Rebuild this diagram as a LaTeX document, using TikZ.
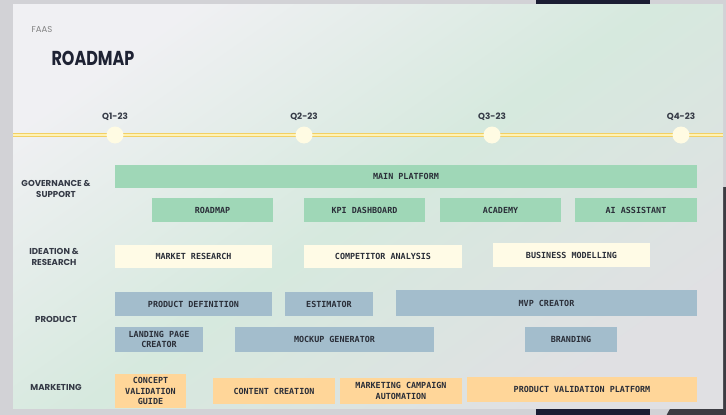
\documentclass[tikz,border=0pt]{standalone}
\usepackage{fontspec}
\setmainfont{Poppins}
\newfontfamily\boxmono{DejaVu Sans Mono}
\definecolor{bgout}{HTML}{D2D2D6}
\definecolor{bgbrown}{HTML}{8E7B72}
\definecolor{navy}{HTML}{1B1D33}
\definecolor{darkdisc}{HTML}{3C3C42}
\definecolor{slidetl}{HTML}{F0F0F3}
\definecolor{slidemid}{HTML}{D6E9DE}
\definecolor{slidebr}{HTML}{E0E0E3}
\definecolor{lbl}{HTML}{353A46}
\definecolor{boxtxt}{HTML}{2A2E38}
\definecolor{gfill}{HTML}{9FD7B7}
\definecolor{cfill}{HTML}{FFFBE6}
\definecolor{bfill}{HTML}{A3BDCC}
\definecolor{ofill}{HTML}{FFD699}
\definecolor{lineout}{HTML}{F2D064}
\definecolor{linein}{HTML}{FFF2B5}
\definecolor{dotfill}{HTML}{FFFBE3}
\definecolor{titlec}{HTML}{1E2233}
\tikzset{
  x=1pt, y=-1pt,
  card/.style={inner sep=0pt, align=center, text=boxtxt,
    font=\boxmono\bfseries\fontsize{8.4}{10.5}\selectfont},
  gbox/.style={card, fill=gfill},
  cbox/.style={card, fill=cfill},
  bbox/.style={card, fill=bfill},
  obox/.style={card, fill=ofill},
  rowlabel/.style={align=center, text=lbl, font=\bfseries\fontsize{8.6}{11}\selectfont},
  qlabel/.style={text=lbl, font=\bfseries\fontsize{8.8}{9}\selectfont},
  qdot/.style={circle, fill=dotfill, minimum size=17pt, inner sep=0pt},
}
\begin{document}
\begin{tikzpicture}
\useasboundingbox (0,0) rectangle (726,415);
% surroundings
\fill[bgout] (0,0) rectangle (726,415);
\shade[left color=bgout, middle color=bgbrown, right color=bgout] (0,408) rectangle (536,415);
\fill[navy] (536,0) rectangle (650,4.5);
\fill[navy] (536,407) rectangle (650,415);
\fill[darkdisc] (723,187) rectangle (726,415);
\fill[darkdisc] (745,455) circle (88);
% slide
\shade[top color=slidetl, bottom color=slidebr, middle color=slidemid, shading angle=35] (13,4) rectangle (723,408);
% title
\node[anchor=west, text=gray, font=\fontsize{8.5}{9}\selectfont] (faas) at (28,30) {FAAS};
\node[anchor=west, text=titlec, font=\bfseries\fontsize{16.5}{18}\selectfont] (title) at (48,58) {\scalebox{0.97}[1.22]{ROADMAP}};
% timeline
\coordinate (tl) at (13,135);
\coordinate (tr) at (723,135);
\draw[lineout, line width=4pt] (tl) -- (tr);
\draw[linein, line width=1.2pt] (tl) -- (tr);
\node[qdot] (q1) at (115,135) {};
\node[qdot] (q2) at (304,135) {};
\node[qdot] (q3) at (492,135) {};
\node[qdot] (q4) at (681,135) {};
\node[qlabel] (q1l) at (115,117) {Q1-23};
\node[qlabel] (q2l) at (304,117) {Q2-23};
\node[qlabel] (q3l) at (492,117) {Q3-23};
\node[qlabel] (q4l) at (681,117) {Q4-23};
% row labels
\node[rowlabel] (gov) at (56,189) {GOVERNANCE \&\\SUPPORT};
\node[rowlabel] (ide) at (54,257) {IDEATION \&\\RESEARCH};
\node[rowlabel] (prd) at (56,319) {PRODUCT};
\node[rowlabel] (mkt) at (56,387) {MARKETING};
% governance
\node[gbox, minimum width=582pt, minimum height=23pt] (main) at (406,176.5) {MAIN PLATFORM};
\node[gbox, minimum width=121pt, minimum height=24pt] (roadmap) at (212.5,210) {ROADMAP};
\node[gbox, minimum width=121pt, minimum height=24pt] (kpi) at (364.5,210) {KPI DASHBOARD};
\node[gbox, minimum width=121pt, minimum height=24pt] (academy) at (500.5,210) {ACADEMY};
\node[gbox, minimum width=122pt, minimum height=24pt] (ai) at (636,210) {AI ASSISTANT};
% ideation
\node[cbox, minimum width=157pt, minimum height=23pt] (market) at (193.5,256.5) {MARKET RESEARCH};
\node[cbox, minimum width=158pt, minimum height=23pt] (comp) at (383,256.5) {COMPETITOR ANALYSIS};
\node[cbox, minimum width=157pt, minimum height=24pt] (bizmod) at (571.5,255) {BUSINESS MODELLING};
% product
\node[bbox, minimum width=157pt, minimum height=24pt] (proddef) at (193.5,304) {PRODUCT DEFINITION};
\node[bbox, minimum width=88pt, minimum height=24pt] (estim) at (329,304) {ESTIMATOR};
\node[bbox, minimum width=301pt, minimum height=26pt] (mvp) at (546.5,303) {MVP CREATOR};
\node[bbox, minimum width=88pt, minimum height=25pt] (landing) at (159,339.5) {LANDING PAGE\\CREATOR};
\node[bbox, minimum width=199pt, minimum height=25pt] (mockup) at (334.5,339.5) {MOCKUP GENERATOR};
\node[bbox, minimum width=92pt, minimum height=25pt] (brand) at (571,339.5) {BRANDING};
% marketing
\node[obox, minimum width=71pt, minimum height=34pt] (concept) at (150.5,391) {CONCEPT\\VALIDATION\\GUIDE};
\node[obox, minimum width=122pt, minimum height=26pt] (content) at (274,391) {CONTENT CREATION};
\node[obox, minimum width=122pt, minimum height=26pt] (campaign) at (401,391) {MARKETING CAMPAIGN\\AUTOMATION};
\node[obox, minimum width=230pt, minimum height=25pt] (pvp) at (582,389.5) {PRODUCT VALIDATION PLATFORM};
\end{tikzpicture}
\end{document}
